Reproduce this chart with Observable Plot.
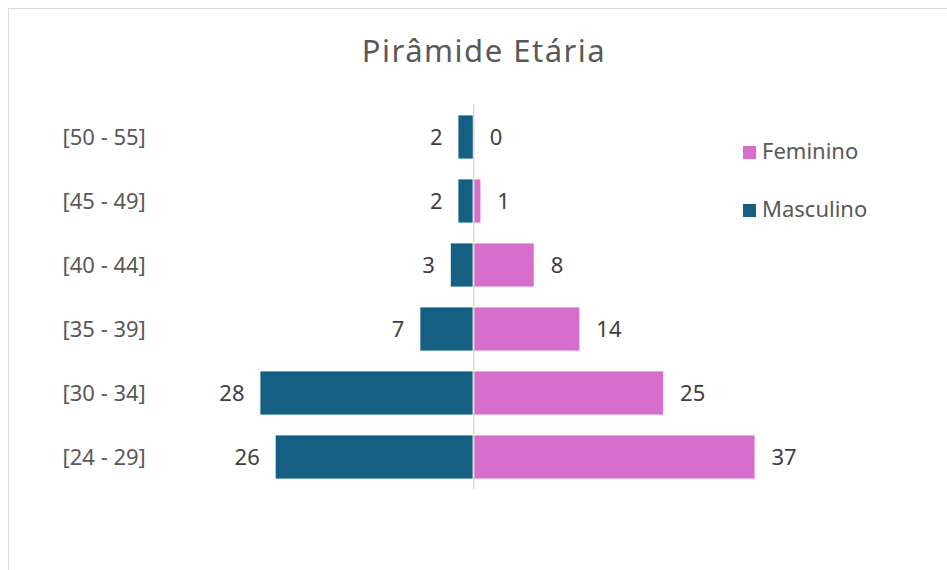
<!DOCTYPE html>
<html>
<head>
<meta charset="utf-8">
<script src="https://cdn.jsdelivr.net/npm/d3@7"></script>
<script src="https://cdn.jsdelivr.net/npm/@observablehq/plot@0.6"></script>
<style>
  html, body { margin: 0; padding: 0; background: #fff; }
  body { width: 947px; height: 570px; position: relative; overflow: hidden; font-family: "Noto Sans", "Open Sans", sans-serif; }
  #frame { position: absolute; left: 8px; top: 8px; width: 960px; height: 600px; border-left: 1.5px solid #d9d9d9; border-top: 1.5px solid #d9d9d9; box-sizing: border-box; }
  #title { position: absolute; left: 0; width: 968px; top: 30px; text-align: center; font-size: 31px; letter-spacing: 1.5px; color: #595959; line-height: 40px; }
  #chart { position: absolute; left: 0; top: 0; }
  .leg { position: absolute; left: 743px; font-size: 22px; color: #595959; line-height: 24px; white-space: nowrap; }
  .leg span.sw { display: inline-block; width: 13px; height: 13px; margin-right: 6px; vertical-align: 0px; }
</style>
</head>
<body>
<div id="frame"></div>
<div id="title">Pirâmide Etária</div>
<div id="chart"></div>
<div class="leg" style="top:138px"><span class="sw" style="background:#D86ECC"></span>Feminino</div>
<div class="leg" style="top:196px"><span class="sw" style="background:#156082"></span>Masculino</div>
<script>
const ageGroups = ["[50 - 55]", "[45 - 49]", "[40 - 44]", "[35 - 39]", "[30 - 34]", "[24 - 29]"];
const masculino = [2, 2, 3, 7, 28, 26];
const feminino = [0, 1, 8, 14, 25, 37];
const seriesNames = ["Feminino", "Masculino"];
const seriesColors = ["#D86ECC", "#156082"];

const rows = [];
ageGroups.forEach((g, i) => {
  rows.push({age: g, sex: "Masculino", value: masculino[i], signed: -masculino[i]});
  rows.push({age: g, sex: "Feminino", value: feminino[i], signed: feminino[i]});
});
const male = rows.filter(d => d.sex === "Masculino");
const female = rows.filter(d => d.sex === "Feminino");

const chart = Plot.plot({
  width: 947,
  height: 570,
  marginLeft: 260,
  marginRight: 192,
  marginTop: 104,
  marginBottom: 81,
  style: {fontFamily: "'Noto Sans', 'Open Sans', sans-serif", background: "transparent", overflow: "visible"},
  x: {domain: [-28, 37], axis: null},
  y: {domain: ageGroups, paddingInner: 0.315, paddingOuter: 0.1575, label: null},
  color: {domain: seriesNames, range: seriesColors},
  marks: [
    Plot.barX(rows, {y: "age", x1: 0, x2: "signed", fill: "sex", stroke: "#ffffff", strokeWidth: 1, strokeOpacity: 0.8}),
    Plot.ruleX([0], {stroke: "#d9d9d9", strokeWidth: 1.5}),
    Plot.text(male, {y: "age", x: "signed", text: d => String(d.value), textAnchor: "end", dx: -16, fill: "#404040", fontSize: 22}),
    Plot.text(female, {y: "age", x: "signed", text: d => String(d.value), textAnchor: "start", dx: 16, fill: "#404040", fontSize: 22}),
    Plot.axisY({anchor: "left", tickSize: 0, tickPadding: 198, textAnchor: "start", fontSize: 22, fill: "#595959", label: null})
  ]
});
document.getElementById("chart").appendChild(chart);
</script>
</body>
</html>
